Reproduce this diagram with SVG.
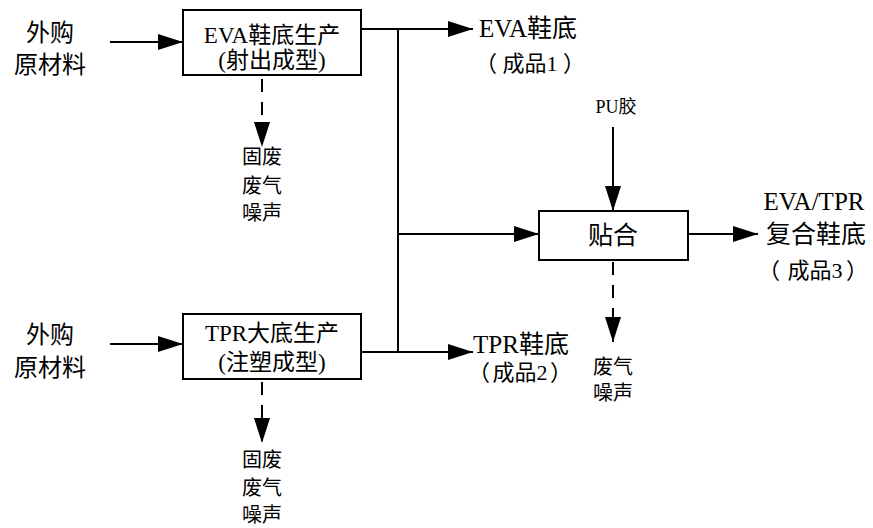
<svg xmlns="http://www.w3.org/2000/svg" width="873" height="528" viewBox="0 0 873 528">
<style>
text{font-family:"Liberation Serif","Noto Sans CJK SC",serif;fill:#000;text-anchor:middle;dominant-baseline:central}
.box{fill:#fff;stroke:#000;stroke-width:2}
.ln{fill:none;stroke:#000;stroke-width:2}
.dash{stroke-dasharray:13 10}
</style>
<defs>
<marker id="ah" viewBox="0 0 25 16" refX="25" refY="8" markerWidth="25" markerHeight="16" markerUnits="userSpaceOnUse" orient="auto">
<path d="M0,0 L25,8 L0,16 z" fill="#000" stroke="none"/>
</marker>
</defs>
<rect width="873" height="528" fill="#fff"/>
<g id="connectors">
<line class="ln" x1="110" y1="42" x2="183" y2="42" marker-end="url(#ah)"/>
<line class="ln" x1="110" y1="344" x2="183" y2="344" marker-end="url(#ah)"/>
<line class="ln" x1="361" y1="29" x2="473" y2="29" marker-end="url(#ah)"/>
<line class="ln" x1="398" y1="29" x2="398" y2="352"/>
<line class="ln" x1="361" y1="352" x2="473" y2="352" marker-end="url(#ah)"/>
<line class="ln" x1="398" y1="234" x2="539" y2="234" marker-end="url(#ah)"/>
<line class="ln" x1="688" y1="234" x2="758" y2="234" marker-end="url(#ah)"/>
<line class="ln" x1="613" y1="127" x2="613" y2="211" marker-end="url(#ah)"/>
<line class="ln dash" x1="262" y1="79" x2="262" y2="147" marker-end="url(#ah)"/>
<line class="ln dash" x1="262" y1="382" x2="262" y2="443" marker-end="url(#ah)"/>
<line class="ln dash" x1="613" y1="262" x2="613" y2="342" marker-end="url(#ah)"/>
</g>
<g id="raw1">
<text x="50" y="33" font-size="24">外购</text>
<text x="50" y="65" font-size="24">原材料</text>
</g>
<g id="raw2">
<text x="50" y="335" font-size="24">外购</text>
<text x="50" y="368" font-size="24">原材料</text>
</g>
<g id="eva">
<rect class="box" x="183" y="10" width="178" height="65"/>
<text x="272" y="35" font-size="23">EVA鞋底生产</text>
<text x="272" y="60" font-size="23">(射出成型)</text>
</g>
<g id="tpr">
<rect class="box" x="183" y="314" width="178" height="65"/>
<text x="272" y="333" font-size="23">TPR大底生产</text>
<text x="272" y="362" font-size="23">(注塑成型)</text>
</g>
<g id="waste1">
<text x="262" y="157" font-size="20">固废</text>
<text x="262" y="186" font-size="20">废气</text>
<text x="262" y="213" font-size="20">噪声</text>
</g>
<g id="waste2">
<text x="262" y="460" font-size="20">固废</text>
<text x="262" y="488" font-size="20">废气</text>
<text x="262" y="515" font-size="20">噪声</text>
</g>
<g id="prod1">
<text x="528" y="28" font-size="25">EVA鞋底</text>
<text y="63" font-size="22"><tspan x="486">（</tspan><tspan x="530">成品1</tspan><tspan x="574">）</tspan></text>
</g>
<g id="prod2">
<text x="521" y="344" font-size="25">TPR鞋底</text>
<text y="372" font-size="22"><tspan x="479">（</tspan><tspan x="520">成品2</tspan><tspan x="561">）</tspan></text>
</g>
<g id="pu">
<text x="616" y="107" font-size="18">PU胶</text>
</g>
<g id="bond">
<rect class="box" x="539" y="211" width="149" height="49"/>
<text x="613" y="235" font-size="25">贴合</text>
</g>
<g id="waste3">
<text x="613" y="367" font-size="20">废气</text>
<text x="613" y="393" font-size="20">噪声</text>
</g>
<g id="prod3">
<text x="814" y="201" font-size="25">EVA/TPR</text>
<text x="816" y="234" font-size="25">复合鞋底</text>
<text y="270" font-size="22"><tspan x="769">（</tspan><tspan x="815">成品3</tspan><tspan x="857">）</tspan></text>
</g>
</svg>
